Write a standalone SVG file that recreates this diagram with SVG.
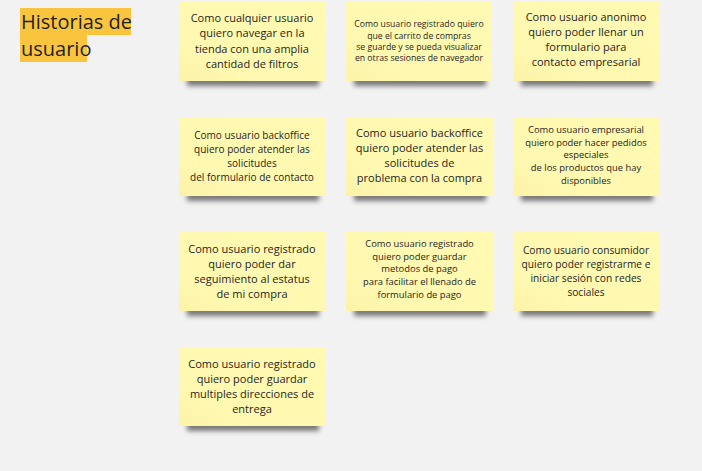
<svg xmlns="http://www.w3.org/2000/svg" width="702" height="471" viewBox="0 0 702 471">
<defs>
<filter id="sh" x="-20%" y="-200%" width="140%" height="500%"><feGaussianBlur stdDeviation="2.5"/></filter>
<linearGradient id="sg" x1="0" y1="1" x2="1" y2="0"><stop offset="0" stop-color="#FCF3A8"/><stop offset="0.25" stop-color="#FFF8B0"/><stop offset="1" stop-color="#FFF9B2"/></linearGradient>
<style>
.bg{fill:#F2F2F2}
.note{fill:url(#sg)}
.shadow{fill:#000;opacity:0.5;filter:url(#sh)}
text{font-family:"Open Sans","Noto Sans","Liberation Sans",sans-serif;fill:#1f1f1f;text-anchor:middle}
.t{text-anchor:start;font-size:20px}
.hl{fill:#FAC53E}
</style>
</defs>
<rect class="bg" x="0" y="0" width="702" height="471"/>
<g id="title">
<rect class="hl" x="20" y="8" width="111" height="27"/>
<rect class="hl" x="20" y="35" width="67" height="27"/>
<text class="t" x="21" y="29">Historias de</text>
<text class="t" x="21" y="56">usuario</text>
</g>
<g id="connectors"/>
<g id="n1">
<rect class="shadow" x="187" y="76" width="132" height="10"/>
<rect class="note" x="179" y="2" width="146" height="79"/>
<text font-size="11" x="252"><tspan x="252" y="21.5">Como cualquier usuario</tspan><tspan x="252" y="37">quiero navegar en la</tspan><tspan x="252" y="52.5">tienda con una amplia</tspan><tspan x="252" y="68">cantidad de filtros</tspan></text>
</g>
<g id="n2">
<rect class="shadow" x="354" y="76" width="132" height="10"/>
<rect class="note" x="346" y="2" width="146" height="79"/>
<text font-size="8.7" x="419"><tspan x="419" y="27">Como usuario registrado quiero</tspan><tspan x="419" y="38.5">que el carrito de compras</tspan><tspan x="419" y="50">se guarde y se pueda visualizar</tspan><tspan x="419" y="61.3">en otras sesiones de navegador</tspan></text>
</g>
<g id="n3">
<rect class="shadow" x="521" y="76" width="132" height="10"/>
<rect class="note" x="513" y="2" width="146" height="79"/>
<text font-size="11" x="586"><tspan x="586" y="20.5">Como usuario anonimo</tspan><tspan x="586" y="35.5">quiero poder llenar un</tspan><tspan x="586" y="50.5">formulario para</tspan><tspan x="586" y="65.5">contacto empresarial</tspan></text>
</g>
<g id="n4">
<rect class="shadow" x="187" y="191" width="132" height="10"/>
<rect class="note" x="179" y="117" width="146" height="79"/>
<text font-size="10" x="252"><tspan x="252" y="138.5">Como usuario backoffice</tspan><tspan x="252" y="152.5">quiero poder atender las</tspan><tspan x="252" y="166.5">solicitudes</tspan><tspan x="252" y="180.5">del formulario de contacto</tspan></text>
</g>
<g id="n5">
<rect class="shadow" x="354" y="191" width="132" height="10"/>
<rect class="note" x="346" y="117" width="147" height="79"/>
<text font-size="11" x="419.5"><tspan x="419.5" y="137.2">Como usuario backoffice</tspan><tspan x="419.5" y="152.2">quiero poder atender las</tspan><tspan x="419.5" y="167.2">solicitudes de</tspan><tspan x="419.5" y="182.2">problema con la compra</tspan></text>
</g>
<g id="n6">
<rect class="shadow" x="521" y="191" width="132" height="10"/>
<rect class="note" x="513" y="117" width="146" height="79"/>
<text font-size="9.4" x="586"><tspan x="586" y="132.8">Como usuario empresarial</tspan><tspan x="586" y="145.6">quiero poder hacer pedidos</tspan><tspan x="586" y="158.4">especiales</tspan><tspan x="586" y="171.2">de los productos que hay</tspan><tspan x="586" y="184">disponibles</tspan></text>
</g>
<g id="n7">
<rect class="shadow" x="187" y="306" width="132" height="10"/>
<rect class="note" x="179" y="232" width="146" height="79"/>
<text font-size="11" x="252"><tspan x="252" y="253">Como usuario registrado</tspan><tspan x="252" y="268">quiero poder dar</tspan><tspan x="252" y="283">seguimiento al estatus</tspan><tspan x="252" y="298">de mi compra</tspan></text>
</g>
<g id="n8">
<rect class="shadow" x="354" y="306" width="132" height="10"/>
<rect class="note" x="346" y="232" width="147" height="79"/>
<text font-size="9.4" x="419.5"><tspan x="419.5" y="246.6">Como usuario registrado</tspan><tspan x="419.5" y="259.5">quiero poder guardar</tspan><tspan x="419.5" y="272.4">metodos de pago</tspan><tspan x="419.5" y="285.3">para facilitar el llenado de</tspan><tspan x="419.5" y="298.2">formulario de pago</tspan></text>
</g>
<g id="n9">
<rect class="shadow" x="521" y="306" width="132" height="10"/>
<rect class="note" x="513" y="232" width="146" height="79"/>
<text font-size="10.2" x="586"><tspan x="586" y="253.5">Como usuario consumidor</tspan><tspan x="586" y="267.6">quiero poder registrarme e</tspan><tspan x="586" y="281.6">iniciar sesión con redes</tspan><tspan x="586" y="295.5">sociales</tspan></text>
</g>
<g id="n10">
<rect class="shadow" x="187" y="421" width="132" height="10"/>
<rect class="note" x="179" y="347" width="146" height="79"/>
<text font-size="11" x="252"><tspan x="252" y="368">Como usuario registrado</tspan><tspan x="252" y="383">quiero poder guardar</tspan><tspan x="252" y="398">multiples direcciones de</tspan><tspan x="252" y="413">entrega</tspan></text>
</g>
</svg>
